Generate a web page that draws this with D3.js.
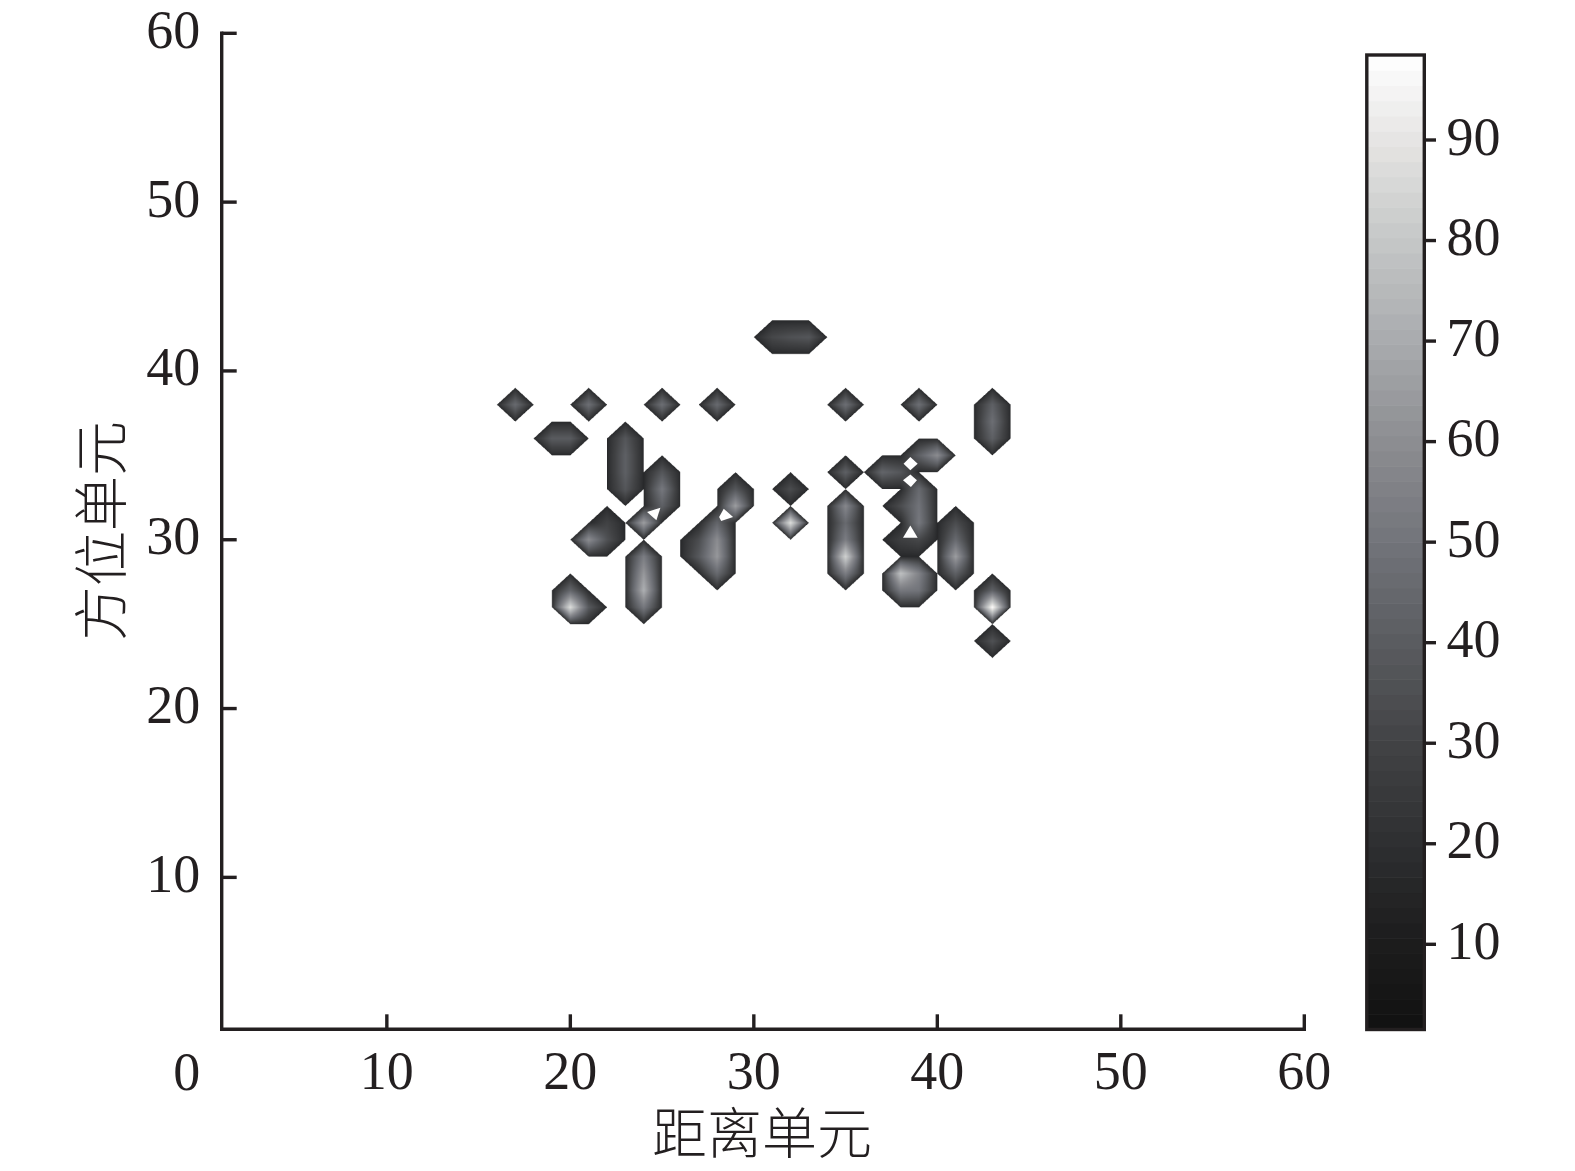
<!DOCTYPE html>
<html>
<head>
<meta charset="utf-8">
<script src="https://cdn.jsdelivr.net/npm/d3@7"></script>
<style>
  html, body { margin: 0; padding: 0; background: #fff; }
  svg { display: block; }
  text { fill: #231f20; font-family: "Liberation Serif", serif; }
  .cjk { font-family: "Noto Sans CJK SC", sans-serif; font-weight: 300; }
  .axis path, .axis line { stroke: #231f20; stroke-width: 3.4px; fill: none; }
  .axis path { stroke-linecap: square; }
</style>
</head>
<body>
<svg id="chart" width="1575" height="1171"></svg>
<script>
// cells with a return: range cell, azimuth cell, peak level
var rangeCells = [17, 21, 25, 28, 19, 20, 23, 23, 23, 23, 25, 25, 25, 24, 22, 22, 21,
  24, 24, 24, 24, 29, 29, 28, 28, 28, 28, 27, 27, 31, 32, 33, 35, 39, 43, 43, 43,
  39, 40, 37, 38, 35, 32, 32, 35, 35, 35, 35, 35, 39, 39, 39, 39, 38, 38,
  38, 39, 38, 39, 41, 41, 41, 41, 43, 43, 43, 20, 20, 21];
var azimuthCells = [38, 38, 38, 38, 36, 36, 36, 35, 34, 33, 34, 33, 32, 31, 31, 30, 30,
  29, 28, 27, 26, 33, 32, 31, 30, 29, 28, 30, 29, 42, 42, 42, 38, 38, 38, 37, 36,
  35, 35, 34, 34, 34, 33, 31, 32, 31, 30, 29, 28, 33, 32, 31, 30, 32, 30,
  28, 28, 27, 27, 31, 30, 29, 28, 27, 26, 24, 27, 26, 26];
var levels = [46, 48, 48, 46, 40, 40, 38, 42, 42, 38, 38, 52, 42, 66, 30, 36, 60,
  54, 64, 72, 52, 38, 66, 44, 60, 64, 46, 34, 39, 32, 36, 38, 48, 48, 42, 48, 42,
  42, 60, 44, 38, 42, 34, 88, 58, 46, 54, 84, 54, 46, 50, 52, 32, 34, 28,
  78, 56, 52, 50, 34, 46, 66, 42, 42, 98, 36, 44, 88, 39];
var edgeLevel = 16;

// small gaps inside the diagonal cells, as [range, azimuth] corners
var gaps = [
  [[24.18, 31.64], [24.91, 31.9], [24.69, 31.15]],
  [[28.36, 31.84], [28.87, 31.35], [28.22, 31.11], [28.11, 31.35]],
  [[38.53, 34.9], [38.93, 34.5], [38.53, 34.11], [38.16, 34.5]],
  [[38.53, 33.87], [38.89, 33.52], [38.56, 33.12], [38.13, 33.52]],
  [[38.53, 30.85], [38.93, 30.12], [38.13, 30.12]]
];

var xTicks = [10, 20, 30, 40, 50, 60];
var yTicks = [10, 20, 30, 40, 50, 60];
var barTicks = [10, 20, 30, 40, 50, 60, 70, 80, 90];
var barStops = [1.4, 10, 18, 30, 40, 50, 60, 70, 80, 90, 98.5];
var barGrays = ['#111111', '#1c1c1c', '#2a2b2d', '#424345', '#5a5c60', '#72747a',
  '#8c8d91', '#a9abae', '#c5c7c7', '#e6e5e3', '#ffffff'];
var barSteps = 64;

var svg = d3.select('#chart');

var x = d3.scaleLinear().domain([1, 60]).range([221.7, 1304.3]);
var y = d3.scaleLinear().domain([1, 60]).range([1029.3, 33.3]);
var barY = d3.scaleLinear().domain([10, 90]).range([944.3, 140]);
var color = d3.scaleLinear().domain(barStops).range(barGrays);

var grid = new Map();
rangeCells.forEach(function(r, i) {
  grid.set(r + ',' + azimuthCells[i], levels[i]);
});

function levelAt(gx, gy) {
  var i = Math.floor(gx), j = Math.floor(gy);
  var u = gx - i, v = gy - j;
  var corners = [
    [grid.get(i + ',' + j), (1 - u) * (1 - v)],
    [grid.get((i + 1) + ',' + j), u * (1 - v)],
    [grid.get(i + ',' + (j + 1)), (1 - u) * v],
    [grid.get((i + 1) + ',' + (j + 1)), u * v]
  ];
  var hits = corners.filter(function(c) { return c[0] !== undefined; });
  if (hits.length === 0) return null;
  var reach;
  var sum;
  if (hits.length === 1) {
    // lone corner, only the triangle next to it is filled
    var isLeft = corners[0][0] !== undefined || corners[2][0] !== undefined;
    var isLow = corners[0][0] !== undefined || corners[1][0] !== undefined;
    var du = isLeft ? u : 1 - u;
    var dv = isLow ? v : 1 - v;
    if (du + dv > 1) return null;
    reach = 1 - du - dv;
    sum = hits[0][0];
  } else {
    reach = d3.sum(hits, function(c) { return c[1]; });
    if (reach === 0) return edgeLevel;
    sum = d3.sum(hits, function(c) { return c[0] * c[1]; }) / reach;
  }
  // falls off slowly at first, the dark rim is narrow
  return edgeLevel + (sum - edgeLevel) * Math.pow(reach, 0.75);
}

// paint the field on a 3x canvas and hand it to the svg as an image
var x0 = d3.min(rangeCells) - 1, x1 = d3.max(rangeCells) + 1;
var y0 = d3.min(azimuthCells) - 1, y1 = d3.max(azimuthCells) + 1;
var left = x(x0), top_ = y(y1);
var w = Math.ceil(x(x1) - left), h = Math.ceil(y(y0) - top_);
var scale = 3;
var canvas = document.createElement('canvas');
canvas.width = w * scale;
canvas.height = h * scale;
var ctx = canvas.getContext('2d');
var img = ctx.createImageData(canvas.width, canvas.height);
for (var py = 0; py < canvas.height; py++) {
  for (var px = 0; px < canvas.width; px++) {
    var val = levelAt(x.invert(left + (px + 0.5) / scale), y.invert(top_ + (py + 0.5) / scale));
    if (val === null) continue;
    var rgb = d3.rgb(color(val));
    var p = (py * canvas.width + px) * 4;
    img.data[p] = rgb.r;
    img.data[p + 1] = rgb.g;
    img.data[p + 2] = rgb.b;
    img.data[p + 3] = 255;
  }
}
ctx.putImageData(img, 0, 0);

svg.append('image')
    .attr('x', left)
    .attr('y', top_)
    .attr('width', w)
    .attr('height', h)
    .attr('href', canvas.toDataURL());

svg.append('g')
  .selectAll('polygon')
  .data(gaps)
  .enter()
  .append('polygon')
    .attr('fill', '#fff')
    .attr('points', function(d) {
      return d.map(function(c) { return x(c[0]) + ',' + y(c[1]); }).join(' ');
    });

// axes, ticks point inward
var xAxis = d3.axisBottom(x).tickValues(xTicks).tickSizeInner(-15).tickSizeOuter(0).tickPadding(0).offset(0);
var yAxis = d3.axisLeft(y).tickValues(yTicks).tickSizeInner(-15).tickSizeOuter(0).tickPadding(21.5).offset(0);

var gx = svg.append('g')
    .attr('class', 'axis')
    .attr('transform', 'translate(0,' + y.range()[0] + ')')
    .call(xAxis);
gx.selectAll('text')
    .style('font-size', '54px')
    .attr('y', 0)
    .attr('dy', '60px');

var gy = svg.append('g')
    .attr('class', 'axis')
    .attr('transform', 'translate(' + x.range()[0] + ',0)')
    .call(yAxis);
gy.selectAll('text')
    .style('font-size', '54px')
    .attr('dy', '14.5px');

// the zero sits on its own, left of the axis corner
svg.append('text')
    .attr('x', 186.7)
    .attr('y', 1089.5)
    .attr('text-anchor', 'middle')
    .style('font-size', '54px')
    .text('0');

svg.append('text')
    .attr('class', 'cjk')
    .attr('x', 762)
    .attr('y', 1153)
    .attr('text-anchor', 'middle')
    .style('font-size', '55px')
    .text('距离单元');

svg.append('text')
    .attr('class', 'cjk')
    .attr('transform', 'translate(121,531) rotate(-90)')
    .attr('text-anchor', 'middle')
    .style('font-size', '55px')
    .text('方位单元');

// colour bar
var barLeft = 1366.8, barRight = 1424.3;
var barTop = 55, barBottom = 1029.5;
var bands = d3.scaleBand().domain(d3.range(barSteps)).range([barBottom, barTop]);

svg.append('g')
  .selectAll('rect')
  .data(d3.range(barSteps))
  .enter()
  .append('rect')
    .attr('x', barLeft)
    .attr('width', barRight - barLeft)
    .attr('y', function(d) { return bands(d); })
    .attr('height', bands.bandwidth() + 0.6)
    .attr('fill', function(d) {
      var v = barStops[0] + (d + 0.5) / barSteps * (barStops[barStops.length - 1] - barStops[0]);
      return color(v);
    });

svg.append('rect')
    .attr('x', barLeft)
    .attr('y', barTop)
    .attr('width', barRight - barLeft)
    .attr('height', barBottom - barTop)
    .attr('fill', 'none')
    .attr('stroke', '#231f20')
    .attr('stroke-width', 3.4);

var barAxis = d3.axisRight(barY).tickValues(barTicks).tickSizeInner(11.7).tickSizeOuter(0).tickPadding(10.5).offset(0);
var gb = svg.append('g')
    .attr('class', 'axis')
    .attr('transform', 'translate(' + barRight + ',0)')
    .call(barAxis);
gb.select('.domain').remove();
gb.selectAll('text')
    .style('font-size', '54px')
    .attr('dy', '14.5px');
</script>
</body>
</html>
